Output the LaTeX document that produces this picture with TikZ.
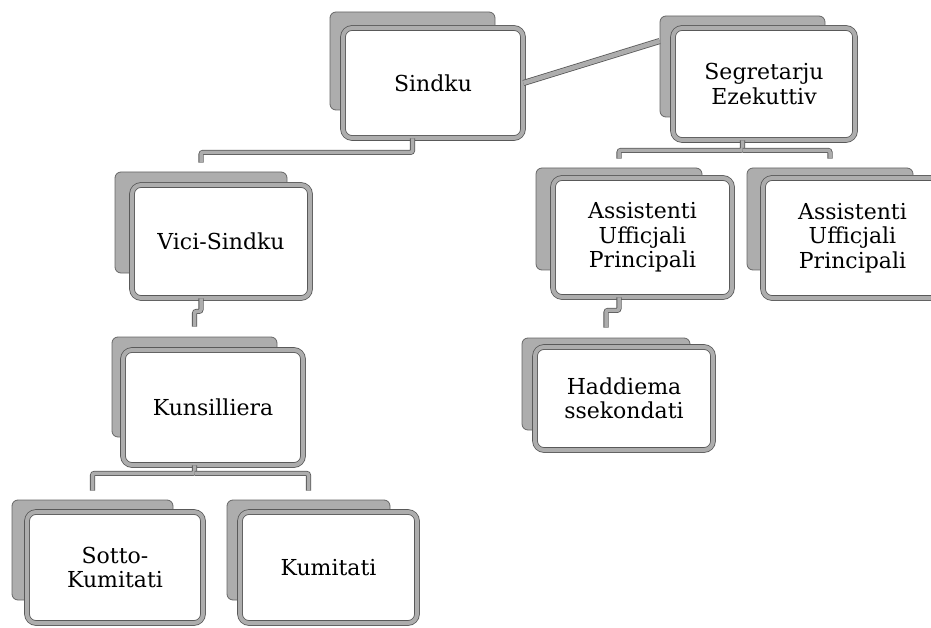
\documentclass[tikz,border=0pt]{standalone}
\usepackage{fontspec}
\setmainfont{DejaVu Serif}
\usetikzlibrary{fit,calc}
\tikzset{
  backbox/.style={rounded corners=6pt, fill=black!32, draw=black!60, line width=0.8pt, inner sep=0pt},
  frontbox/.style={rounded corners=9pt, fill=white, draw=black!65, double=black!32, double distance=4pt, line width=0.8pt, inner sep=0pt},
  lbl/.style={align=center, font=\fontsize{22}{24.5}\selectfont},
  conn/.style={draw=black!65, double=black!32, double distance=3.5pt, line width=0.8pt, rounded corners=2pt},
}
\begin{document}
\begin{tikzpicture}[x=1pt,y=-1pt]
\useasboundingbox (0,0) rectangle (931,628);
\clip (0,0) rectangle (931,628);

% back boxes
\node[backbox, fit={(330,12)(495,110)}] (sB) {};
\node[backbox, fit={(660,16)(825,117)}] (gB) {};
\node[backbox, fit={(115,172)(287,273)}] (vB) {};
\node[backbox, fit={(112,337)(277,437)}] (kB) {};
\node[backbox, fit={(12,500)(173,600)}] (soB) {};
\node[backbox, fit={(227,500)(390,600)}] (kuB) {};
\node[backbox, fit={(536,168)(702,270)}] (a1B) {};
\node[backbox, fit={(747,168)(913,270)}] (a2B) {};
\node[backbox, fit={(522,338)(690,430)}] (hB) {};

% front boxes
\node[frontbox, fit={(343,28)(523,138)}] (s) {};
\node[lbl] (sT) at (s.center) {Sindku};
\node[frontbox, fit={(673,28)(855,140)}] (g) {};
\node[lbl] (gT) at (g.center) {Segretarju\\Ezekuttiv};
\node[frontbox, fit={(132,185)(310,298)}] (v) {};
\node[lbl] (vT) at (v.center) {Vici-Sindku};
\node[frontbox, fit={(123,350)(303,465)}] (k) {};
\node[lbl] (kT) at (k.center) {Kunsilliera};
\node[frontbox, fit={(27,512)(203,623)}] (so) {};
\node[lbl] (soT) at (so.center) {Sotto-\\Kumitati};
\node[frontbox, fit={(240,512)(417,623)}] (ku) {};
\node[lbl] (kuT) at (ku.center) {Kumitati};
\node[frontbox, fit={(553,178)(732,297)}] (a1) {};
\node[lbl] (a1T) at (a1.center) {Assistenti\\Ufficjali\\Principali};
\node[frontbox, fit={(763,178)(942,298)}] (a2) {};
\node[lbl] (a2T) at (a2.center) {Assistenti\\Ufficjali\\Principali};
\node[frontbox, fit={(535,347)(713,450)}] (h) {};
\node[lbl] (hT) at (h.center) {Haddiema\\ssekondati};

% connectors
\draw[conn, double distance=4.5pt] (s.east) -- ($(gB.north west)!0.25!(gB.south west)$);
\draw[conn] (sB.center |- s.south) -- ++(0,14) -| ($(vB.north)+(0,-9)$);
\draw[conn] (gB.center |- g.south) -- ++(0,10) coordinate (gj) -| ($(a1B.north)+(0,-9)$);
\draw[conn] (gj) -| ($(a2B.north)+(0,-9)$);
\draw[conn] (vB.center |- v.south) -- ++(0,13) -| ($(kB.north)+(0,-10)$);
\draw[conn] (kB.center |- k.south) -- ++(0,8) coordinate (kj) -| ($(soB.north)+(0,-9)$);
\draw[conn] (kj) -| ($(kuB.north)+(0,-9)$);
\draw[conn] (a1B.center |- a1.south) -- ++(0,13) -| ($(hB.north)+(0,-10)$);
\end{tikzpicture}
\end{document}
